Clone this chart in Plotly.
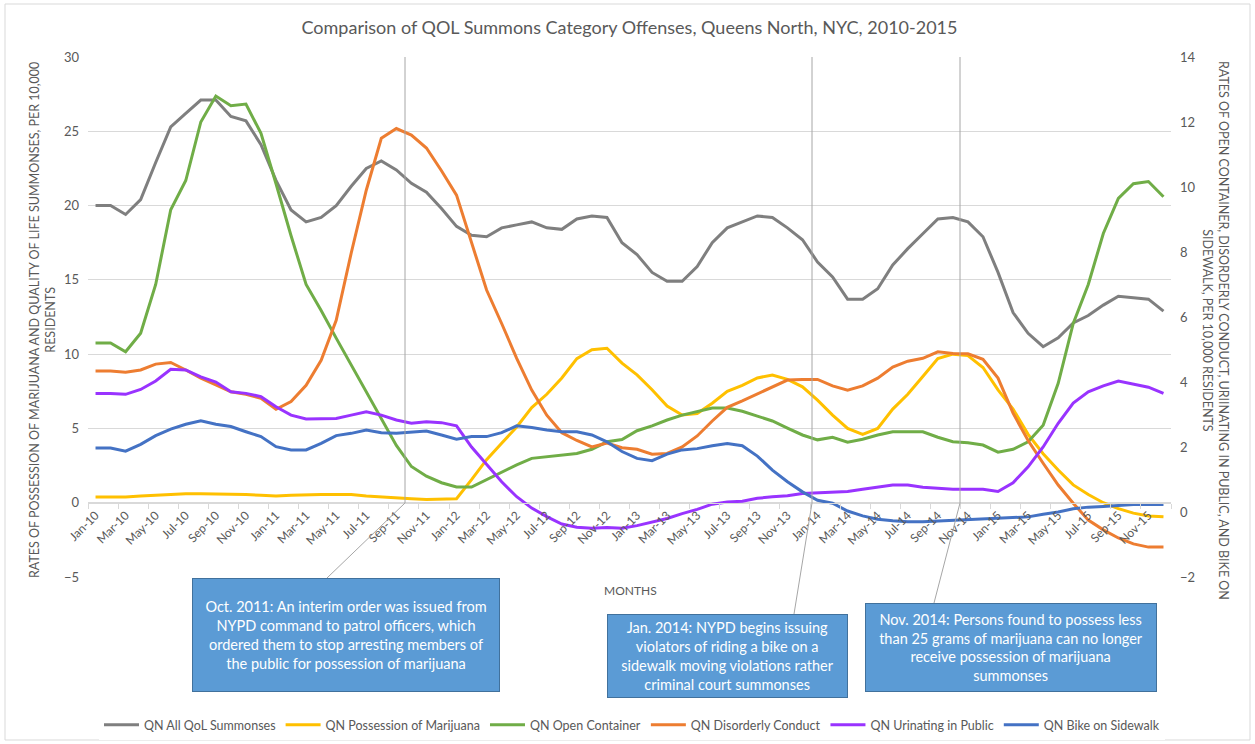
import plotly.graph_objects as go

# ---------------- data ----------------
years = ["10", "11", "12", "13", "14", "15"]
month_names = ["Jan", "Feb", "Mar", "Apr", "May", "Jun", "Jul", "Aug", "Sep", "Oct", "Nov", "Dec"]
months = [f"{m}-{y}" for y in years for m in month_names]

# left axis (per 10,000 residents)
all_qol = [20.0, 20.0, 19.4, 20.4, 22.9, 25.3, 26.2, 27.1, 27.1, 26.0, 25.7, 24.1,
           21.7, 19.7, 18.9, 19.2, 20.0, 21.3, 22.5, 23.0, 22.4, 21.5, 20.9, 19.8,
           18.6, 18.0, 17.9, 18.5, 18.7, 18.9, 18.5, 18.4, 19.1, 19.3, 19.2, 17.5,
           16.7, 15.5, 14.9, 14.9, 15.9, 17.5, 18.5, 18.9, 19.3, 19.2, 18.5, 17.7,
           16.2, 15.2, 13.7, 13.7, 14.4, 16.0, 17.1, 18.1, 19.1, 19.2, 18.9, 17.9,
           15.5, 12.8, 11.4, 10.5, 11.1, 12.1, 12.6, 13.3, 13.9, 13.8, 13.7, 12.9]

marijuana = [0.38, 0.38, 0.38, 0.45, 0.5, 0.6, 0.6, 0.6, 0.6, 0.55, 0.55, 0.5,
             0.45, 0.5, 0.55, 0.55, 0.55, 0.55, 0.45, 0.38, 0.3, 0.27, 0.22, 0.22,
             0.27, 1.55, 2.9, 4.0, 5.1, 6.4, 7.3, 8.4, 9.7, 10.3, 10.4, 9.4,
             8.6, 7.6, 6.5, 5.9, 6.0, 6.7, 7.5, 7.9, 8.4, 8.6, 8.3, 7.8,
             6.9, 5.9, 5.0, 4.6, 5.0, 6.3, 7.3, 8.5, 9.7, 10.0, 9.9, 9.1,
             7.6, 6.3, 4.6, 3.3, 2.2, 1.2, 0.55, 0.0, -0.4, -0.7, -0.9, -0.95]

# right axis (per 10,000 residents)
open_container = [5.2, 5.2, 4.93, 5.5, 7.0, 9.3, 10.2, 12.0, 12.8, 12.5, 12.55, 11.65,
                  10.1, 8.5, 7.0, 6.2, 5.35, 4.53, 3.72, 2.9, 2.05, 1.4, 1.1, 0.9,
                  0.77, 0.77, 1.0, 1.24, 1.45, 1.65, 1.7, 1.75, 1.8, 1.93, 2.16, 2.23,
                  2.5, 2.65, 2.83, 2.98, 3.1, 3.2, 3.2, 3.1, 2.95, 2.8, 2.58, 2.37,
                  2.22, 2.3, 2.15, 2.24, 2.37, 2.47, 2.47, 2.47, 2.3, 2.16, 2.13, 2.06,
                  1.84, 1.93, 2.16, 2.67, 3.96, 5.8, 7.0, 8.57, 9.65, 10.1, 10.17, 9.7]

disorderly = [4.34, 4.34, 4.3, 4.37, 4.55, 4.6, 4.37, 4.12, 3.91, 3.7, 3.62, 3.5,
              3.16, 3.4, 3.9, 4.67, 5.9, 7.97, 9.9, 11.5, 11.8, 11.6, 11.2, 10.5,
              9.75, 8.27, 6.83, 5.8, 4.73, 3.75, 2.98, 2.44, 2.2, 2.0, 2.12, 1.98,
              1.93, 1.78, 1.8, 2.0, 2.34, 2.8, 3.22, 3.42, 3.63, 3.85, 4.06, 4.08,
              4.08, 3.88, 3.75, 3.88, 4.12, 4.46, 4.64, 4.73, 4.93, 4.88, 4.87, 4.7,
              4.12, 3.04, 2.2, 1.5, 0.83, 0.27, -0.25, -0.55, -0.8, -0.98, -1.08, -1.08]

urinating = [3.65, 3.65, 3.62, 3.77, 4.03, 4.39, 4.37, 4.16, 4.0, 3.7, 3.65, 3.55,
             3.24, 2.98, 2.86, 2.88, 2.88, 2.98, 3.08, 2.98, 2.83, 2.73, 2.78, 2.75,
             2.65, 2.0, 1.45, 0.93, 0.47, 0.12, -0.14, -0.37, -0.47, -0.5, -0.48, -0.5,
             -0.42, -0.3, -0.2, -0.05, 0.08, 0.24, 0.31, 0.33, 0.42, 0.47, 0.5, 0.57,
             0.59, 0.6, 0.63, 0.7, 0.76, 0.83, 0.83, 0.76, 0.73, 0.7, 0.7, 0.7,
             0.63, 0.9, 1.39, 2.0, 2.73, 3.35, 3.7, 3.88, 4.03, 3.93, 3.84, 3.65]

bike = [1.97, 1.97, 1.87, 2.08, 2.35, 2.55, 2.7, 2.81, 2.7, 2.63, 2.47, 2.32,
        2.01, 1.91, 1.91, 2.11, 2.35, 2.42, 2.52, 2.44, 2.42, 2.45, 2.49, 2.37,
        2.24, 2.32, 2.32, 2.44, 2.65, 2.6, 2.52, 2.47, 2.47, 2.37, 2.16, 1.86,
        1.65, 1.58, 1.78, 1.91, 1.95, 2.04, 2.11, 2.04, 1.72, 1.29, 0.93, 0.62,
        0.36, 0.27, 0.03, -0.12, -0.22, -0.27, -0.3, -0.3, -0.28, -0.27, -0.25, -0.23,
        -0.2, -0.18, -0.15, -0.07, 0.0, 0.1, 0.15, 0.17, 0.2, 0.23, 0.23, 0.23]

left_ticks = [-5, 0, 5, 10, 15, 20, 25, 30]
right_ticks = [-2, 0, 2, 4, 6, 8, 10, 12, 14]

series = [
    ("QN All QoL Summonses", all_qol, "#7F7F7F", "y"),
    ("QN Possession of Marijuana", marijuana, "#FFC000", "y"),
    ("QN Open Container", open_container, "#70AD47", "y2"),
    ("QN Disorderly Conduct", disorderly, "#ED7D31", "y2"),
    ("QN Urinating in Public", urinating, "#9933FF", "y2"),
    ("QN Bike on Sidewalk", bike, "#4472C4", "y2"),
]

notes = [
    "Oct. 2011: An interim order was issued from<br>NYPD command to patrol officers, which<br>ordered them to stop arresting members of<br>the public for possession of marijuana",
    "Jan. 2014: NYPD begins issuing<br>violators of riding a bike on a<br>sidewalk moving violations rather<br>criminal court summonses",
    "Nov. 2014: Persons found to possess less<br>than 25 grams of marijuana can no longer<br>receive possession of marijuana<br>summonses",
]

# ---------------- layout geometry (pixels) ----------------
W, H = 1255, 744
PL, PR, PT, PB = 88, 1171, 57, 577  # plot area in pixels
FONT = "Lato"
TXT = "#595959"


def fx(px):
    return (px - PL) / (PR - PL)


def fy(py):
    return (PB - py) / (PB - PT)


fig = go.Figure()
for name, vals, color, ax in series:
    fig.add_trace(go.Scatter(x=months, y=vals, name=name, mode="lines",
                             line=dict(color=color, width=3), yaxis=ax))

shapes = []
# chart border
shapes.append(dict(type="rect", xref="paper", yref="paper",
                   x0=fx(5), x1=fx(1250), y0=fy(740), y1=fy(4),
                   line=dict(color="#D9D9D9", width=1), fillcolor="rgba(0,0,0,0)", layer="below"))
# leader lines: (top x, axis x, box x, box y)
leaders = [(405, 405, 327, 578), (812, 812, 794, 614), (960, 960, 934, 603)]
for tx, bx, ex, ey in leaders:
    shapes.append(dict(type="path", xref="paper", yref="paper",
                       path=f"M {fx(tx)} {fy(PT)} L {fx(bx)} {fy(503)} L {fx(ex)} {fy(ey)}",
                       line=dict(color="#A6A6A6", width=1)))

annotations = []
# note boxes: center x, center y, width, height
boxes = [(346, 634.5, 306, 112), (727.5, 656, 239, 82), (1011, 647.5, 290, 87)]
for (cx, cy, bw, bh), text in zip(boxes, notes):
    annotations.append(dict(xref="paper", yref="paper", x=fx(cx), y=fy(cy),
                            xanchor="center", yanchor="middle", text=text, showarrow=False,
                            width=bw, height=bh, align="center", valign="middle",
                            bgcolor="#5B9BD5", bordercolor="#41719C", borderwidth=1, borderpad=0,
                            font=dict(family=FONT, size=14.5, color="white")))

annotations.append(dict(xref="paper", yref="paper", x=fx(630), y=fy(590), text="MONTHS",
                        showarrow=False, xanchor="center", yanchor="middle",
                        font=dict(family=FONT, size=12, color=TXT)))
annotations.append(dict(xref="paper", yref="paper", x=fx(42), y=fy(320),
                        text="RATES OF POSSESSION OF MARIJUANA AND QUALITY OF LIFE SUMMONSES, PER 10,000<br>RESIDENTS",
                        showarrow=False, textangle=-90, xanchor="center", yanchor="middle", align="center",
                        font=dict(family=FONT, size=12.5, color=TXT)))
annotations.append(dict(xref="paper", yref="paper", x=fx(1216), y=fy(330),
                        text="RATES OF OPEN CONTAINER, DISORDERLY CONDUCT, URIINATING IN PUBLIC, AND BIKE ON<br>SIDEWALK, PER 10,000 RESIDENTS",
                        showarrow=False, textangle=90, xanchor="center", yanchor="middle", align="center",
                        font=dict(family=FONT, size=12.5, color=TXT)))

fig.update_layout(
    width=W, height=H,
    margin=dict(l=PL, r=W - PR, t=PT, b=H - PB),
    paper_bgcolor="white", plot_bgcolor="white",
    title=dict(text="Comparison of QOL Summons Category Offenses, Queens North, NYC, 2010-2015",
               x=0.5, xref="paper", xanchor="center", y=1 - 28 / H, yanchor="middle",
               font=dict(family=FONT, size=18, color=TXT)),
    font=dict(family=FONT, color=TXT),
    showlegend=True,
    legend=dict(orientation="h", xref="container", yref="container",
                x=632 / W, xanchor="center", y=1 - 725 / H, yanchor="middle",
                font=dict(family=FONT, size=12.5, color=TXT), traceorder="normal", itemwidth=35),
    xaxis=dict(type="category", anchor="free", position=5 / 35,
               tickmode="linear", tick0=0, dtick=2, tickson="boundaries",
               ticks="outside", ticklen=5, tickcolor="#D9D9D9",
               showline=True, linecolor="#D9D9D9", linewidth=1, showgrid=False,
               tickangle=-45, tickfont=dict(family=FONT, size=12, color=TXT),
               range=[-0.5, len(months) - 0.5]),
    yaxis=dict(range=[-5, 30], tickvals=left_ticks, showgrid=True, gridcolor="#D9D9D9",
               zeroline=False, showline=False, ticks="", ticklabelstandoff=8,
               tickfont=dict(family=FONT, size=13, color=TXT)),
    yaxis2=dict(range=[-2, 14], tickvals=right_ticks, overlaying="y", side="right",
                showgrid=False, zeroline=False, showline=False, ticks="", ticklabelstandoff=8,
                tickfont=dict(family=FONT, size=13, color=TXT)),
    shapes=shapes,
    annotations=annotations,
)

fig.write_html("out.html", config={"displayModeBar": False},
               post_script="document.body.style.margin='0px';")
